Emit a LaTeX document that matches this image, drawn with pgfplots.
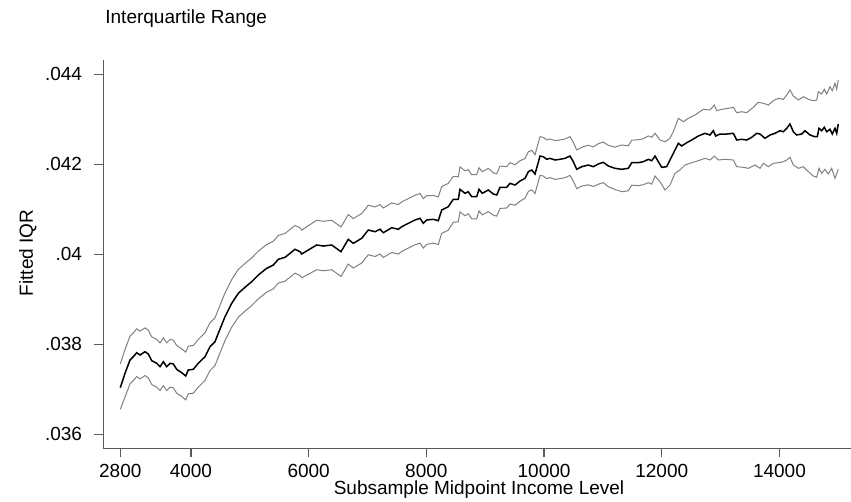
\documentclass[border=0pt]{standalone}
\usepackage{fontspec}
\setmainfont{Liberation Sans}
\usepackage{pgfplots}
\pgfplotsset{compat=1.18}
\definecolor{bandgray}{HTML}{808080}
\definecolor{axgray}{HTML}{5A5A5A}
\begin{document}
\begin{tikzpicture}[font=\fontsize{9.5pt}{11pt}\selectfont]
\useasboundingbox (0,0) rectangle (425.5pt,251pt);
\begin{axis}[
  scale only axis, width=373.85pt, height=194.15pt,
  at={(51.65pt,26.85pt)}, anchor=south west,
  xmin=2511, xmax=15216, ymin=0.035689, ymax=0.044318,
  axis x line*=bottom, axis y line*=left,
  axis line style={-, axgray, line width=0.75pt},
  tick align=outside, major tick length=4.5pt,
  tick style={axgray, line width=0.6pt},
  xtick={2800,4000,6000,8000,10000,12000,14000},
  xticklabels={2800,4000,6000,8000,10000,12000,14000},
  ytick={0.036,0.038,0.04,0.042,0.044},
  yticklabels={.036,.038,.04,.042,.044},
  scaled x ticks=false, scaled y ticks=false,
  yticklabel style={xshift=-2.6pt},
  every tick label/.append style={font=\fontsize{9.5pt}{11pt}\selectfont},
]
% upper confidence band
\addplot[bandgray, line width=0.5pt] coordinates {
(2800,0.037563)(2880,0.037886)(2965,0.038181)(3021,0.038254)(3079,0.038343)(3135,0.038292)(3220,0.038366)(3276,0.038314)(3334,0.038166)(3418,0.038108)(3475,0.038032)(3531,0.038143)(3588,0.038032)(3645,0.038108)(3701,0.038092)(3758,0.037974)(3843,0.037899)(3911,0.037826)(3955,0.037959)(4040,0.037974)(4125,0.038108)(4239,0.038254)(4324,0.038477)(4409,0.038588)(4465,0.038774)(4579,0.039143)(4693,0.039441)(4805,0.039663)(4919,0.039797)(5033,0.039921)(5145,0.040070)(5288,0.040219)(5400,0.040292)(5485,0.040419)(5599,0.040463)(5684,0.040552)(5768,0.040641)(5855,0.040588)(5882,0.040537)(5995,0.040636)(6137,0.040757)(6249,0.040734)(6392,0.040757)(6550,0.040608)(6674,0.040883)(6759,0.040794)(6902,0.040906)(7014,0.041090)(7128,0.041052)(7213,0.041106)(7269,0.041030)(7412,0.041141)(7524,0.041106)(7582,0.041163)(7694,0.041239)(7808,0.041312)(7893,0.041350)(7949,0.041239)(8006,0.041302)(8119,0.041308)(8203,0.041277)(8261,0.041504)(8373,0.041578)(8458,0.041732)(8543,0.041722)(8572,0.041944)(8657,0.041856)(8713,0.041881)(8771,0.041770)(8856,0.041770)(8895,0.041924)(8951,0.041836)(9053,0.041909)(9138,0.041810)(9196,0.041788)(9252,0.041959)(9366,0.041949)(9422,0.042038)(9507,0.041990)(9592,0.042079)(9677,0.042129)(9733,0.042276)(9791,0.042313)(9847,0.042214)(9932,0.042614)(9988,0.042599)(10045,0.042541)(10102,0.042563)(10187,0.042526)(10272,0.042541)(10357,0.042563)(10441,0.042614)(10497,0.042488)(10555,0.042319)(10640,0.042377)(10752,0.042424)(10837,0.042387)(10922,0.042457)(11007,0.042494)(11092,0.042422)(11206,0.042381)(11320,0.042429)(11432,0.042411)(11490,0.042536)(11602,0.042546)(11687,0.042568)(11772,0.042631)(11830,0.042600)
(11886,0.042689)(11970,0.042540)(12055,0.042502)(12140,0.042578)(12197,0.042724)(12282,0.043022)(12367,0.042947)(12452,0.043022)(12566,0.043096)(12706,0.043222)(12820,0.043207)(12893,0.043318)(12934,0.043191)(13019,0.043222)(13131,0.043244)(13216,0.043267)(13274,0.043147)(13359,0.043169)(13444,0.043147)(13556,0.043267)(13641,0.043378)(13726,0.043356)(13811,0.043318)(13896,0.043413)(13981,0.043467)(14066,0.043444)(14124,0.043540)(14179,0.043651)(14236,0.043518)(14321,0.043429)(14406,0.043502)(14491,0.043444)(14575,0.043413)(14633,0.043429)(14661,0.043613)(14718,0.043562)(14762,0.043667)(14803,0.043562)(14859,0.043724)(14898,0.043636)(14944,0.043800)(14973,0.043667)(15000,0.043873)
};
% lower confidence band
\addplot[bandgray, line width=0.5pt] coordinates {
(2800,0.036556)(2880,0.036826)(2965,0.037121)(3021,0.037194)(3079,0.037283)(3135,0.037232)(3220,0.037306)(3276,0.037254)(3334,0.037106)(3418,0.037048)(3475,0.036972)(3531,0.037083)(3588,0.036972)(3645,0.037048)(3701,0.037032)(3758,0.036914)(3843,0.036839)(3911,0.036766)(3955,0.036899)(4040,0.036914)(4125,0.037048)(4239,0.037194)(4324,0.037417)(4409,0.037528)(4465,0.037714)(4579,0.038083)(4693,0.038381)(4805,0.038603)(4919,0.038737)(5033,0.038861)(5145,0.039010)(5288,0.039159)(5400,0.039232)(5485,0.039359)(5599,0.039403)(5684,0.039492)(5768,0.039581)(5855,0.039528)(5882,0.039477)(5995,0.039556)(6137,0.039657)(6249,0.039634)(6392,0.039657)(6550,0.039508)(6674,0.039783)(6759,0.039694)(6902,0.039806)(7014,0.039990)(7128,0.039952)(7213,0.040006)(7269,0.039930)(7412,0.040041)(7524,0.040006)(7582,0.040063)(7694,0.040139)(7808,0.040212)(7893,0.040250)(7949,0.040139)(8006,0.040222)(8119,0.040248)(8203,0.040217)(8261,0.040464)(8373,0.040538)(8458,0.040712)(8543,0.040722)(8572,0.040944)(8657,0.040856)(8713,0.040901)(8771,0.040790)(8856,0.040790)(8895,0.040964)(8951,0.040876)(9053,0.040949)(9138,0.040870)(9196,0.040848)(9252,0.041019)(9366,0.041029)(9422,0.041118)(9507,0.041090)(9592,0.041179)(9677,0.041249)(9733,0.041396)(9791,0.041433)(9847,0.041354)(9932,0.041754)(9988,0.041739)(10045,0.041681)(10102,0.041703)(10187,0.041666)(10272,0.041681)(10357,0.041703)(10441,0.041754)(10497,0.041628)(10555,0.041459)(10640,0.041517)(10752,0.041544)(10837,0.041507)(10922,0.041557)(11007,0.041594)(11092,0.041502)(11206,0.041441)(11320,0.041391)(11432,0.041411)(11490,0.041536)(11602,0.041526)(11687,0.041548)(11772,0.041591)(11830,0.041560)
(11886,0.041740)(11970,0.041613)(12055,0.041429)(12140,0.041540)(12225,0.041800)(12310,0.041873)(12395,0.041984)(12509,0.042036)(12621,0.042080)(12735,0.042133)(12820,0.042096)(12893,0.042184)(12961,0.042096)(13075,0.042111)(13216,0.042096)(13274,0.041947)(13386,0.041933)(13471,0.041911)(13585,0.041984)(13670,0.041911)(13726,0.042022)(13811,0.041947)(13896,0.042022)(13981,0.042036)(14066,0.042058)(14124,0.042096)(14179,0.042156)(14236,0.041984)(14321,0.041911)(14406,0.041947)(14491,0.041836)(14575,0.041740)(14633,0.041711)(14672,0.041911)(14718,0.041800)(14774,0.041889)(14830,0.041784)(14888,0.041911)(14944,0.041689)(15000,0.041889)
};
% fitted IQR
\addplot[black, line width=0.75pt] coordinates {
(2800,0.037036)(2880,0.037356)(2965,0.037651)(3021,0.037724)(3079,0.037813)(3135,0.037762)(3220,0.037836)(3276,0.037784)(3334,0.037636)(3418,0.037578)(3475,0.037502)(3531,0.037613)(3588,0.037502)(3645,0.037578)(3701,0.037562)(3758,0.037444)(3843,0.037369)(3911,0.037296)(3955,0.037429)(4040,0.037444)(4125,0.037578)(4239,0.037724)(4324,0.037947)(4409,0.038058)(4465,0.038244)(4579,0.038613)(4693,0.038911)(4805,0.039133)(4919,0.039267)(5033,0.039391)(5145,0.039540)(5288,0.039689)(5400,0.039762)(5485,0.039889)(5599,0.039933)(5684,0.040022)(5768,0.040111)(5855,0.040058)(5882,0.040007)(5995,0.040096)(6137,0.040207)(6249,0.040184)(6392,0.040207)(6550,0.040058)(6674,0.040333)(6759,0.040244)(6902,0.040356)(7014,0.040540)(7128,0.040502)(7213,0.040556)(7269,0.040480)(7412,0.040591)(7524,0.040556)(7582,0.040613)(7694,0.040689)(7808,0.040762)(7893,0.040800)(7949,0.040689)(8006,0.040762)(8119,0.040778)(8203,0.040747)(8261,0.040984)(8373,0.041058)(8458,0.041222)(8543,0.041222)(8572,0.041444)(8657,0.041356)(8713,0.041391)(8771,0.041280)(8856,0.041280)(8895,0.041444)(8951,0.041356)(9053,0.041429)(9138,0.041340)(9196,0.041318)(9252,0.041489)(9366,0.041489)(9422,0.041578)(9507,0.041540)(9592,0.041629)(9677,0.041689)(9733,0.041836)(9791,0.041873)(9847,0.041784)(9932,0.042184)(9988,0.042169)(10045,0.042111)(10102,0.042133)(10187,0.042096)(10272,0.042111)(10357,0.042133)(10441,0.042184)(10497,0.042058)(10555,0.041889)(10640,0.041947)(10752,0.041984)(10837,0.041947)(10922,0.042007)(11007,0.042044)(11092,0.041962)(11206,0.041911)(11320,0.041889)(11432,0.041911)(11490,0.042036)(11602,0.042036)(11687,0.042058)(11772,0.042111)(11830,0.042080)(11886,0.042184)(11942,0.042058)(11999,0.041933)(12084,0.041947)(12140,0.042096)(12197,0.042244)(12282,0.042467)(12339,0.042407)(12424,0.042480)(12509,0.042540)(12621,0.042629)(12735,0.042689)(12820,0.042651)(12876,0.042747)(12917,0.042629)(12990,0.042673)(13104,0.042673)(13216,0.042689)(13274,0.042540)(13359,0.042556)(13444,0.042540)(13529,0.042600)(13614,0.042689)(13670,0.042673)(13755,0.042578)(13840,0.042651)(13925,0.042689)(14009,0.042747)(14066,0.042724)(14124,0.042800)(14179,0.042896)(14236,0.042724)(14293,0.042651)(14378,0.042673)(14434,0.042747)(14519,0.042651)(14604,0.042613)(14643,0.042613)(14672,0.042800)(14718,0.042747)(14762,0.042822)(14803,0.042724)(14859,0.042778)(14898,0.042673)(14944,0.042800)(14973,0.042689)(15000,0.042896)
};
\end{axis}
\node[anchor=base west, inner sep=0pt] at (52.5pt,239pt) {Interquartile Range};
\node[anchor=base, inner sep=0pt] at (239.5pt,3.5pt) {Subsample Midpoint Income Level};
\node[anchor=base, rotate=90, inner sep=0pt] at (16.5pt,124.5pt) {Fitted IQR};
\end{tikzpicture}
\end{document}
